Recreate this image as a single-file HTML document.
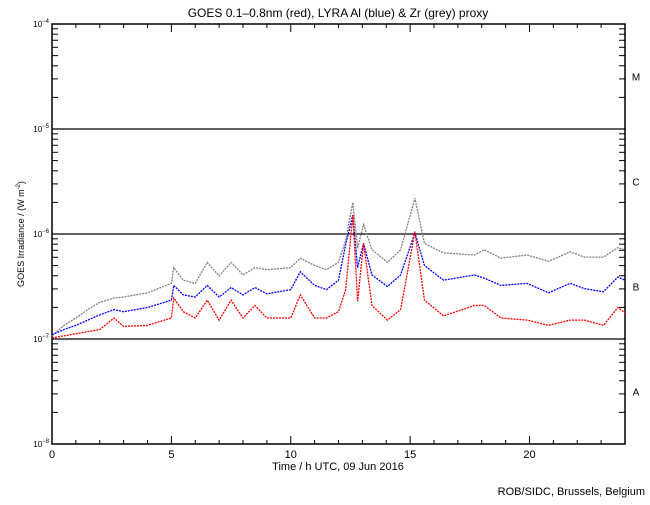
<!DOCTYPE html>
<html><head><meta charset="utf-8">
<style>
body{margin:0;background:#fff;}
svg text{font-family:"Liberation Sans",sans-serif;fill:#000;}
</style></head>
<body>
<svg id="chart" width="650" height="500" viewBox="0 0 650 500" xmlns="http://www.w3.org/2000/svg">
<rect width="650" height="500" fill="#fff"/>
<text x="338" y="17" font-size="12" text-anchor="middle">GOES 0.1–0.8nm (red), LYRA Al (blue) &amp; Zr (grey) proxy</text>
<g id="axes"></g>
<g id="series"></g>
<text x="338" y="470" font-size="11" text-anchor="middle">Time / h UTC, 09 Jun 2016</text>
<text transform="translate(24,234) rotate(-90)" font-size="9" text-anchor="middle">GOES Irradiance / (W m<tspan font-size="6" dy="-4">-2</tspan><tspan dy="4">)</tspan></text>
<text x="645" y="495" font-size="11" text-anchor="end">ROB/SIDC, Brussels, Belgium</text>
</svg>
<script>
const hours = [0,0.5,1,1.5,2,2.6,3,4,5,5.1,5.5,6,6.5,7,7.5,8,8.5,9,10,10.4,11,11.5,12,12.3,12.6,12.8,13.05,13.4,14.05,14.6,15.2,15.6,16.4,17.7,18.1,18.8,19.9,20.8,21.7,22.3,23.1,23.7,24];
const greyLog = [-6.97,-6.87,-6.80,-6.72,-6.65,-6.61,-6.60,-6.56,-6.47,-6.32,-6.44,-6.47,-6.27,-6.40,-6.27,-6.39,-6.32,-6.34,-6.32,-6.23,-6.30,-6.34,-6.27,-6.06,-5.70,-6.13,-5.91,-6.15,-6.27,-6.15,-5.66,-6.09,-6.18,-6.20,-6.15,-6.23,-6.20,-6.26,-6.17,-6.22,-6.22,-6.13,-6.15];
const blueLog = [-6.96,-6.91,-6.87,-6.82,-6.77,-6.72,-6.74,-6.70,-6.63,-6.49,-6.58,-6.60,-6.49,-6.60,-6.51,-6.58,-6.51,-6.57,-6.53,-6.36,-6.49,-6.53,-6.44,-6.10,-5.82,-6.32,-6.09,-6.39,-6.50,-6.39,-5.99,-6.30,-6.44,-6.39,-6.42,-6.49,-6.47,-6.56,-6.47,-6.52,-6.55,-6.41,-6.44];
const redLog = [-6.99,-6.97,-6.95,-6.93,-6.91,-6.80,-6.88,-6.87,-6.80,-6.61,-6.74,-6.80,-6.63,-6.82,-6.63,-6.80,-6.68,-6.80,-6.80,-6.58,-6.80,-6.80,-6.74,-6.53,-5.82,-6.64,-6.09,-6.68,-6.82,-6.72,-5.98,-6.63,-6.78,-6.68,-6.68,-6.80,-6.82,-6.87,-6.82,-6.82,-6.87,-6.70,-6.75];
const xTickLabels = [0,5,10,15,20];
const decades = [-8,-7,-6,-5,-4];
const classLetters = ["A","B","C","M"];

const NS="http://www.w3.org/2000/svg";
const X0=52,X1=625,YTOP=24,YBOT=444;
const xs=h=>X0+(X1-X0)*h/24;
const ys=l=>YBOT-(l+8)*(YBOT-YTOP)/4;
const axes=document.getElementById('axes');
const ser=document.getElementById('series');
function mk(tag,attrs,parent){const e=document.createElementNS(NS,tag);for(const k in attrs)e.setAttribute(k,attrs[k]);parent.appendChild(e);return e;}

const frame=mk('rect',{x:X0,y:YTOP,width:X1-X0,height:YBOT-YTOP,fill:'none',stroke:'#000','stroke-width':1.5},axes);



decades.forEach((d,i)=>{
  const y=ys(d);
  if(d>-8&&d<-4){
    const l=mk('line',{x1:X0,x2:X1,y1:y,y2:y,stroke:'#000','stroke-width':1.3},axes);
    
    
  }
  const t=mk('text',{x:X0-3,y:y+3,'font-size':8,'text-anchor':'end'},axes);
  
  
  t.textContent='10';
  const s=mk('tspan',{dy:-4,'font-size':6},t);s.textContent='−'+(-d);
  if(d<-4){
    for(let m=2;m<=9;m++){
      const yy=ys(d+Math.log10(m));
      const a=mk('line',{x1:X0,x2:X0+6,y1:yy,y2:yy,stroke:'#000'},axes);
      
      
      const b=mk('line',{x1:X1-6,x2:X1,y1:yy,y2:yy,stroke:'#000'},axes);
      
      
    }
  }
});
classLetters.forEach((c,i)=>{
  const t=mk('text',{x:636,y:ys(-7.5+i)+4,'font-size':10,'text-anchor':'middle'},axes);
  
  
  t.textContent=c;
});
for(let h=0;h<=24;h++){
  const len=h%5===0?8:4,x=xs(h);
  const a=mk('line',{x1:x,x2:x,y1:YBOT,y2:YBOT-len,stroke:'#000'},axes);
  
  
  const b=mk('line',{x1:x,x2:x,y1:YTOP,y2:YTOP+len,stroke:'#000'},axes);
  
  
}
xTickLabels.forEach(h=>{
  const t=mk('text',{x:xs(h),y:458,'font-size':11,'text-anchor':'middle'},axes);
  
  
  t.textContent=h;
});
function line(vals,color,name){
  const p=mk('polyline',{points:vals.map((v,i)=>xs(hours[i])+','+ys(v)).join(' '),fill:'none',stroke:color,'stroke-width':1.3,'stroke-dasharray':'2,1'},ser);
  
  
}
line(greyLog,'#808080','zr-proxy-series');
line(blueLog,'#0000ff','al-proxy-series');
line(redLog,'#ff0000','goes-series');
</script>
</body></html>
